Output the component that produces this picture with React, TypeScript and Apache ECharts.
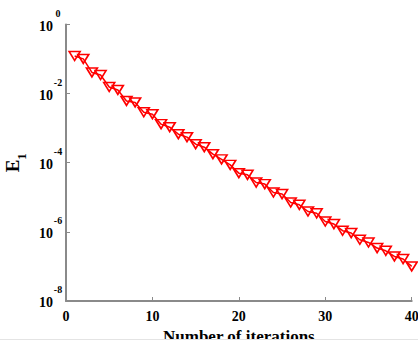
import React, { useEffect, useRef } from "react";
import * as echarts from "echarts";

const iterations = [
  1, 2, 3, 4, 5, 6, 7, 8, 9, 10, 11, 12, 13, 14, 15, 16, 17, 18, 19, 20,
  21, 22, 23, 24, 25, 26, 27, 28, 29, 30, 31, 32, 33, 34, 35, 36, 37, 38, 39, 40,
];
const e1Values = [
  1.23e-1, 1.01e-1, 4.1e-2, 3.47e-2, 1.56e-2, 1.28e-2, 6.15e-3, 5.57e-3, 2.9e-3, 2.54e-3,
  1.31e-3, 1.07e-3, 6.71e-4, 5.5e-4, 3.45e-4, 2.82e-4, 1.77e-4, 1.25e-4, 8.69e-5, 5.0e-5,
  4.47e-5, 2.68e-5, 2.41e-5, 1.38e-5, 1.24e-5, 7.08e-6, 6.07e-6, 3.89e-6, 3.45e-6, 2.0e-6,
  1.68e-6, 1.08e-6, 9.23e-7, 5.92e-7, 4.94e-7, 3.4e-7, 2.84e-7, 1.95e-7, 1.64e-7, 1.0e-7,
];
const xTicks = [0, 10, 20, 30, 40];
const yExponents = [-8, -6, -4, -2, 0];

const serif = "'Liberation Serif', 'DejaVu Serif', serif";
const axisGrey = "#8a8a8a";

export default function App() {
  const ref = useRef<HTMLDivElement>(null);
  useEffect(() => {
    if (!ref.current) return;
    const chart = echarts.init(ref.current, null, { renderer: "svg" });
    chart.setOption({
      animation: false,
      backgroundColor: "#ffffff",
      grid: { left: 66, top: 24.5, right: 6.3, bottom: 40, outerBoundsMode: "none", containLabel: false },
      xAxis: {
        type: "value",
        min: xTicks[0],
        max: xTicks[xTicks.length - 1],
        interval: 10,
        name: "Number of iterations",
        nameLocation: "middle",
        nameGap: 21,
        nameTextStyle: { fontFamily: serif, fontWeight: "bold", fontSize: 17, color: "#000" },
        axisLine: { show: true, lineStyle: { color: axisGrey, width: 2 } },
        axisTick: { show: true, inside: true, length: 4, lineStyle: { color: axisGrey, width: 1 } },
        axisLabel: { fontFamily: serif, fontWeight: "bold", fontSize: 14, color: "#000", margin: 8 },
        splitLine: { show: false },
      },
      yAxis: {
        type: "log",
        logBase: 10,
        min: Math.pow(10, yExponents[0]),
        max: Math.pow(10, yExponents[yExponents.length - 1]),
        interval: 2,
        name: "{e|E}{s|1}",
        nameLocation: "middle",
        nameRotate: 90,
        nameGap: 33,
        nameTextStyle: {
          rich: {
            e: {
              fontFamily: serif,
              fontWeight: "bold",
              fontSize: 19,
              lineHeight: 19,
              padding: [0, 0, 6, 0],
              color: "#000",
            },
            s: {
              fontFamily: serif,
              fontWeight: "bold",
              fontSize: 13,
              lineHeight: 13,
              padding: [12, 0, 0, 0],
              color: "#000",
            },
          },
        },
        axisLine: { show: true, lineStyle: { color: axisGrey, width: 2 } },
        axisTick: { show: true, inside: true, length: 4, lineStyle: { color: axisGrey, width: 1 } },
        axisLabel: {
          margin: 3,
          formatter: (v: number) => {
            const ex = Math.round(Math.log10(v));
            return `{b|10}{s|${ex}}`;
          },
          rich: {
            b: {
              fontFamily: serif,
              fontWeight: "bold",
              fontSize: 14,
              lineHeight: 14,
              padding: [11, 0, 8, 0],
              color: "#000",
            },
            s: {
              fontFamily: serif,
              fontWeight: "bold",
              fontSize: 10,
              lineHeight: 10,
              width: 10,
              align: "left",
              padding: [0, 0, 23, 0],
              color: "#000",
            },
          },
        },
        splitLine: { show: false },
      },
      series: [
        {
          type: "line",
          data: iterations.map((x, i) => [x, e1Values[i]]),
          symbol: "triangle",
          symbolRotate: 180,
          symbolSize: [11, 9],
          showAllSymbol: true,
          lineStyle: { color: "#ff0000", width: 1.5 },
          itemStyle: { color: "none", borderColor: "#ff0000", borderWidth: 1.6 },
          emphasis: { disabled: true },
        },
      ],
      graphic: [
        {
          type: "rect",
          shape: { x: 0, y: 339, width: 418, height: 2 },
          style: { fill: "#ffffff" },
          z: 100,
        },
        {
          type: "line",
          shape: { x1: 0, y1: 339.5, x2: 418, y2: 339.5 },
          style: { stroke: "#e4e4e4", lineWidth: 1 },
          z: 101,
        },
      ],
    });
    return () => chart.dispose();
  }, []);
  return (
    <div
      ref={ref}
      style={{ position: "fixed", left: 0, top: 0, width: 418, height: 341 }}
    />
  );
}
